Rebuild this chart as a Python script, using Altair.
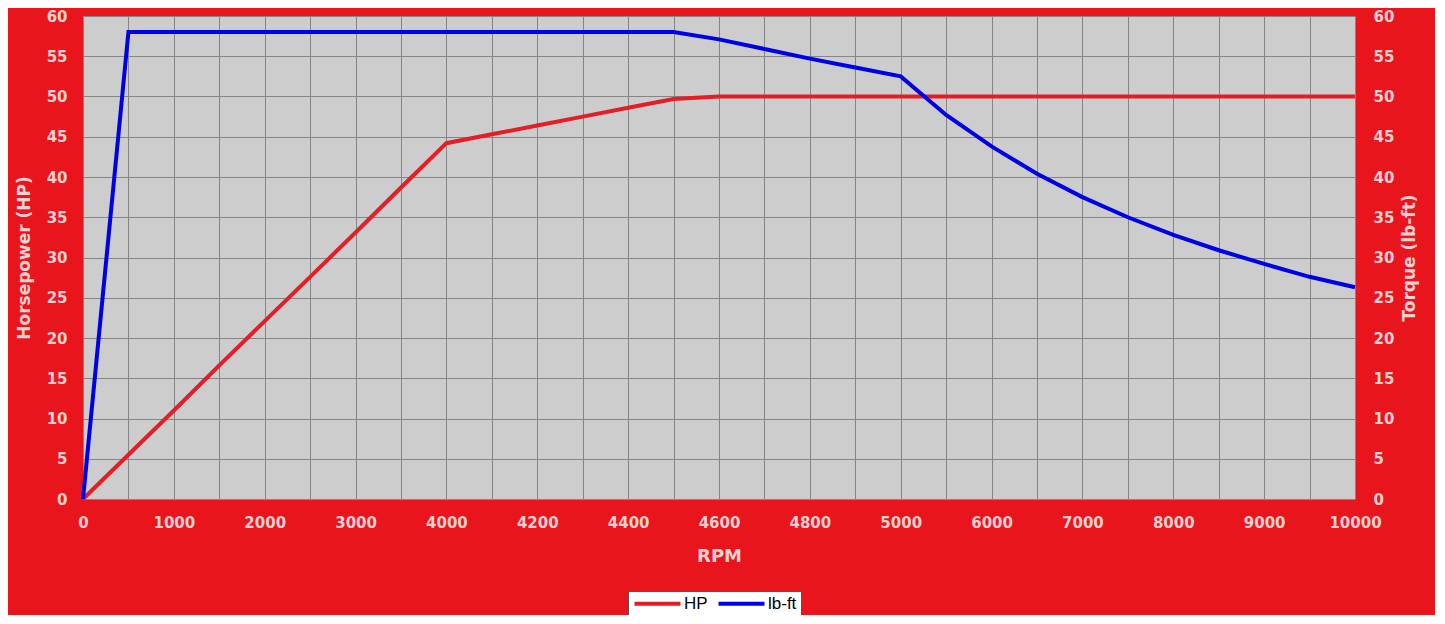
import altair as alt
import pandas as pd

# Category axis (RPM) as in the original chart
rpm = [0, 500, 1000, 1500, 2000, 2500, 3000, 3500, 4000,
       4100, 4200, 4300, 4400, 4500, 4600, 4700, 4800, 4900, 5000,
       5500, 6000, 6500, 7000, 7500, 8000, 8500, 9000, 9500, 10000]
hp = [0, 5.5, 11.0, 16.6, 22.1, 27.6, 33.1, 38.7, 44.2,
      45.3, 46.4, 47.5, 48.6, 49.7, 50.0, 50.0, 50.0, 50.0, 50.0,
      50.0, 50.0, 50.0, 50.0, 50.0, 50.0, 50.0, 50.0, 50.0, 50.0]
torque = [0, 58.0, 58.0, 58.0, 58.0, 58.0, 58.0, 58.0, 58.0,
          58.0, 58.0, 58.0, 58.0, 58.0, 57.1, 55.9, 54.7, 53.6, 52.5,
          47.7, 43.8, 40.4, 37.5, 35.0, 32.8, 30.9, 29.2, 27.6, 26.3]
x_tick_labels = [0, 1000, 2000, 3000, 4000, 4200, 4400, 4600, 4800, 5000,
                 6000, 7000, 8000, 9000, 10000]
y_ticks = [0, 5, 10, 15, 20, 25, 30, 35, 40, 45, 50, 55, 60]
series_names = ["HP", "lb-ft"]
series_colors = ["#E41E26", "#0000E6"]

df = pd.DataFrame({"rpm": rpm, "hp": hp, "torque": torque})

TXT = "#F8D0D0"
label_list = ",".join(str(v) for v in x_tick_labels)

x_enc = alt.X(
    "rpm:O",
    scale=alt.Scale(type="point", padding=0, domain=rpm),
    axis=alt.Axis(
        title="RPM",
        values=rpm,
        labelExpr=f"indexof([{label_list}], datum.value) >= 0 ? datum.label : ''",
        labelAngle=0,
        labelOverlap=False,
        grid=True,
        labelPadding=16,
        titlePadding=17,
        titleFontSize=18,
    ),
)

color_scale = alt.Scale(domain=series_names, range=series_colors)
# small layout size, but a long line drawn by the custom path symbol
legend = alt.Legend(
    orient="none", legendX=545, legendY=575, direction="horizontal", columns=2,
    title=None, symbolType="M-3,0L20,0", symbolSize=16, symbolStrokeWidth=4,
    fillColor="white", strokeColor="#555555", padding=4,
    labelFont="Liberation Sans", labelFontSize=17, labelColor="black",
    labelFontWeight="normal", labelOffset=35, columnPadding=2,
)

base = alt.Chart(df)

hp_line = base.mark_line(strokeWidth=4).transform_calculate(
    series=f"'{series_names[0]}'"
).encode(
    x=x_enc,
    y=alt.Y(
        "hp:Q",
        scale=alt.Scale(domain=[0, 60], nice=False),
        axis=alt.Axis(title="Horsepower (HP)", orient="left", values=y_ticks,
                      grid=True, labelPadding=16, titlePadding=13),
    ),
    color=alt.Color("series:N", scale=color_scale, legend=legend),
)

tq_line = base.mark_line(strokeWidth=4).transform_calculate(
    series=f"'{series_names[1]}'"
).encode(
    x=x_enc,
    y=alt.Y(
        "torque:Q",
        scale=alt.Scale(domain=[0, 60], nice=False),
        axis=alt.Axis(title="Torque (lb-ft)", orient="right", values=y_ticks,
                      grid=False, labelPadding=18, titlePadding=8,
                      titleAngle=270, titleBaseline="top"),
    ),
    color=alt.Color("series:N", scale=color_scale, legend=legend),
)

chart = (
    alt.layer(hp_line, tq_line)
    .resolve_scale(y="independent")
    .properties(
        width=1272, height=483,
        background="#E8151D",
        padding={"left": 75, "top": 8, "right": 80, "bottom": 116},
        autosize=alt.AutoSizeParams(type="none"),
    )
    .configure_view(fill="#CDCDCD", stroke=None)
    .configure_axis(
        labelFont="DejaVu Sans", labelFontWeight="bold", labelFontSize=15,
        labelColor=TXT, titleFont="DejaVu Sans", titleFontWeight="bold",
        titleFontSize=17, titleColor=TXT, domain=False, ticks=False, tickSize=0,
        gridColor="#858585", gridWidth=1, gridOpacity=1,
    )
)

chart.save("out.html", embed_options={"renderer": "svg", "actions": False})
